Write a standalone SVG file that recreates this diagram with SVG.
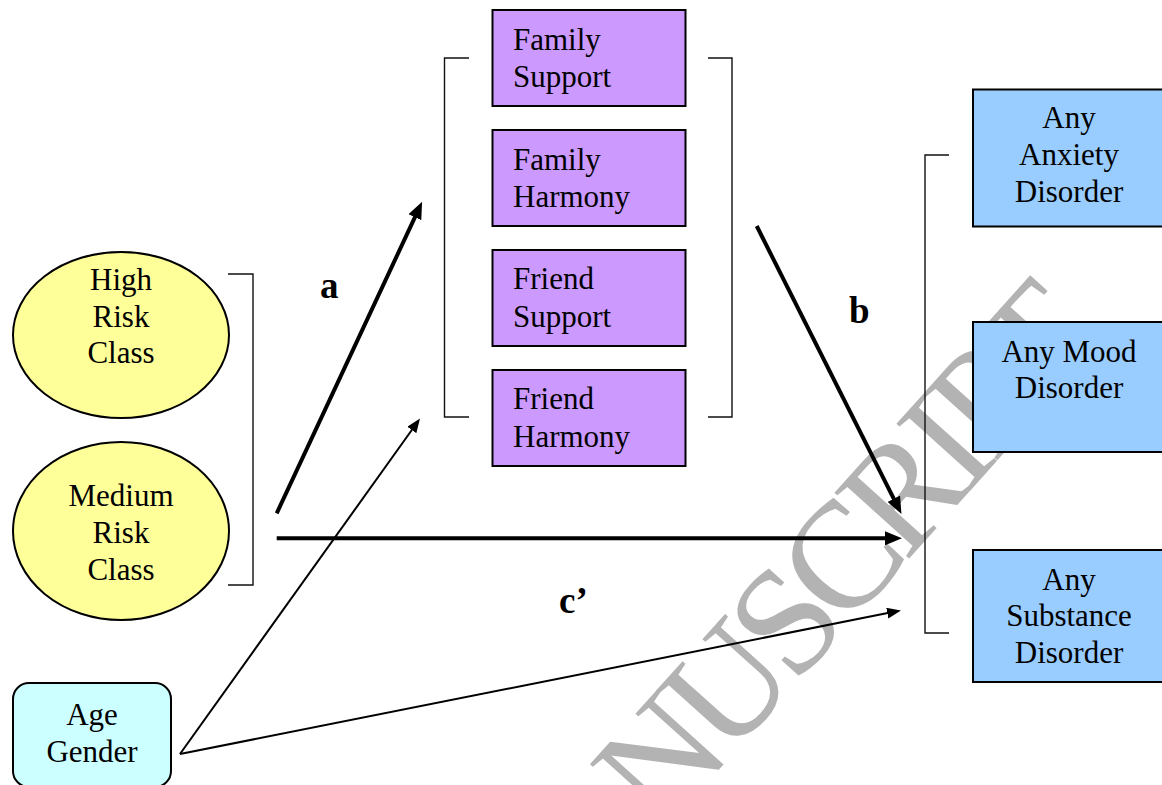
<svg xmlns="http://www.w3.org/2000/svg" width="1162" height="785" viewBox="0 0 1162 785">
<style>
.t{font-family:"Liberation Serif","Times New Roman",serif;font-size:31px;fill:#000}
.c{text-anchor:middle}
.lbl{font-family:"Liberation Serif","Times New Roman",serif;font-size:37px;font-weight:bold;fill:#000}
.wm{font-family:"Liberation Serif","Times New Roman",serif;font-size:152px;letter-spacing:-10px;fill:#b3b3b3}
.br{fill:none;stroke:#111;stroke-width:1.4}
.box{stroke:#000;stroke-width:2}
.thick{stroke:#000;stroke-width:4;fill:none}
.thin{stroke:#000;stroke-width:2;fill:none}
</style>
<defs>
<marker id="hk" markerUnits="userSpaceOnUse" markerWidth="17" markerHeight="14" refX="4" refY="7" orient="auto">
<path d="M0,0 L17,7 L0,14 z" fill="#000"/>
</marker>
<marker id="hn" markerUnits="userSpaceOnUse" markerWidth="14" markerHeight="11" refX="3" refY="5.5" orient="auto">
<path d="M0,0 L14,5.5 L0,11 z" fill="#000"/>
</marker>
</defs>
<rect width="1162" height="785" fill="#fff"/>
<g id="watermark">
<text class="wm" transform="translate(661,834) rotate(-48)">NUSCRIPT</text>
</g>
<g id="high-risk">
<ellipse cx="121" cy="335" rx="108" ry="83" fill="#ffff99" stroke="#000" stroke-width="2"/>
<text class="t c" x="121" y="290">High</text>
<text class="t c" x="121" y="327">Risk</text>
<text class="t c" x="121" y="363">Class</text>
</g>
<g id="medium-risk">
<ellipse cx="121" cy="531" rx="108" ry="89" fill="#ffff99" stroke="#000" stroke-width="2"/>
<text class="t c" x="121" y="506">Medium</text>
<text class="t c" x="121" y="543">Risk</text>
<text class="t c" x="121" y="580">Class</text>
</g>
<g id="age-gender">
<rect x="13" y="683" width="158" height="104" rx="16" fill="#ccffff" stroke="#000" stroke-width="2"/>
<text class="t c" x="92" y="725">Age</text>
<text class="t c" x="92" y="762">Gender</text>
</g>
<g id="family-support">
<rect class="box" x="492.5" y="10" width="193" height="96" fill="#cc99ff"/>
<text class="t" x="513" y="50">Family</text>
<text class="t" x="513" y="87">Support</text>
</g>
<g id="family-harmony">
<rect class="box" x="492.5" y="130" width="193" height="96" fill="#cc99ff"/>
<text class="t" x="513" y="170">Family</text>
<text class="t" x="513" y="207">Harmony</text>
</g>
<g id="friend-support">
<rect class="box" x="492.5" y="250" width="193" height="96" fill="#cc99ff"/>
<text class="t" x="513" y="289">Friend</text>
<text class="t" x="513" y="327">Support</text>
</g>
<g id="friend-harmony">
<rect class="box" x="492.5" y="370" width="193" height="96" fill="#cc99ff"/>
<text class="t" x="513" y="409">Friend</text>
<text class="t" x="513" y="447">Harmony</text>
</g>
<g id="anxiety">
<rect class="box" x="973" y="89.5" width="192" height="137" fill="#99ccff"/>
<text class="t c" x="1069" y="128">Any</text>
<text class="t c" x="1069" y="165">Anxiety</text>
<text class="t c" x="1069" y="202">Disorder</text>
</g>
<g id="mood">
<rect class="box" x="973" y="322" width="192" height="130" fill="#99ccff"/>
<text class="t c" x="1069" y="362">Any Mood</text>
<text class="t c" x="1069" y="398">Disorder</text>
</g>
<g id="substance">
<rect class="box" x="973" y="550" width="192" height="132" fill="#99ccff"/>
<text class="t c" x="1069" y="590">Any</text>
<text class="t c" x="1069" y="626">Substance</text>
<text class="t c" x="1069" y="663">Disorder</text>
</g>
<g id="brackets">
<path class="br" d="M228,274 H253 V585 H228"/>
<path class="br" d="M469,58 H444.5 V417 H469"/>
<path class="br" d="M708,58 H732 V417 H708"/>
<path class="br" d="M949,155 H925 V633 H949"/>
</g>
<g id="connectors">
<line class="thick" x1="276.7" y1="513.3" x2="416.6" y2="213.6" marker-end="url(#hk)"/>
<line class="thick" x1="756.7" y1="226" x2="895.6" y2="502.3" marker-end="url(#hk)"/>
<line class="thick" x1="276.7" y1="538.3" x2="889" y2="538.3" marker-end="url(#hk)"/>
<line class="thin" x1="180" y1="754" x2="413.6" y2="427.5" marker-end="url(#hn)"/>
<line class="thin" x1="180" y1="754" x2="890.2" y2="612.6" marker-end="url(#hn)"/>
</g>
<g id="labels">
<text class="lbl" x="320" y="298">a</text>
<text class="lbl" x="849" y="323">b</text>
<text class="lbl" x="559" y="613">c’</text>
</g>
</svg>
